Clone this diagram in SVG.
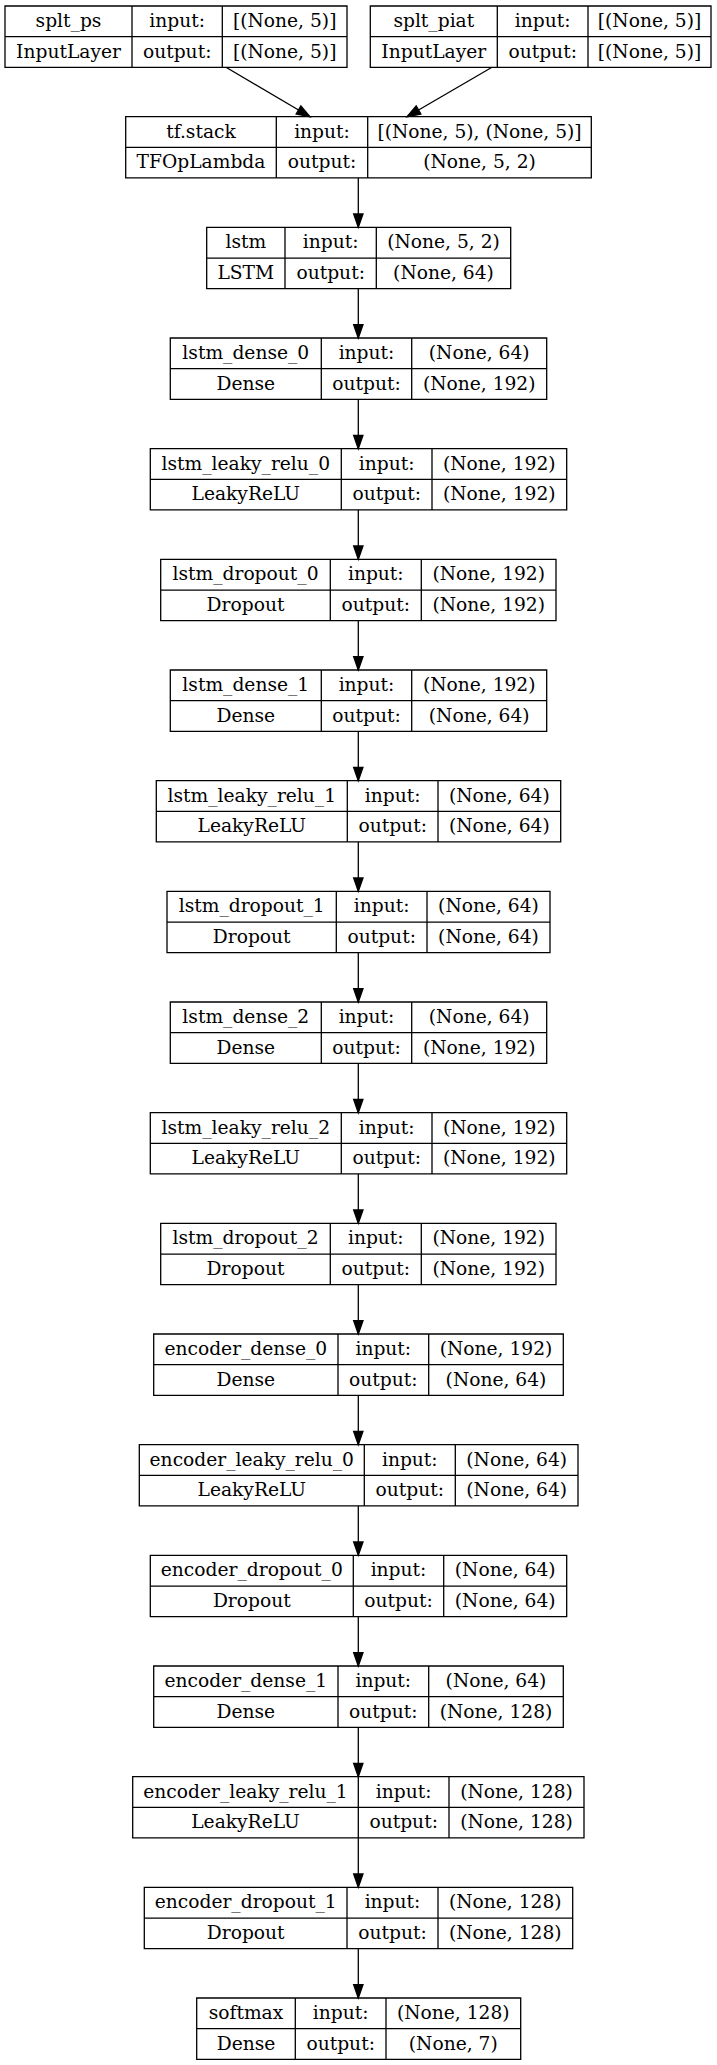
<svg xmlns="http://www.w3.org/2000/svg" width="717" height="2065" viewBox="0 0 717 2065">
<style>
.box{fill:none;stroke:#000;stroke-width:1.3}
.t{font-family:"DejaVu Serif",serif;font-size:18.67px;fill:#000;text-anchor:middle}
.e{stroke:#000;stroke-width:1.3;fill:none}
</style>
<defs>
<marker id="ah" markerUnits="userSpaceOnUse" markerWidth="14" markerHeight="10" refX="13.33" refY="4.67" orient="auto" overflow="visible">
<path d="M0,0 L13.33,4.67 L0,9.33 Z" fill="#000" stroke="#000" stroke-width="1.3"/>
</marker>
</defs>
<rect width="717" height="2065" fill="#fff"/>
<g id="connectors">
<path class="e" d="M226,67.3 L310,116.7" marker-end="url(#ah)"/>
<path class="e" d="M492,67.3 L407,116.7" marker-end="url(#ah)"/>
<path class="e" d="M358.3,178 V227.3" marker-end="url(#ah)"/>
<path class="e" d="M358.3,288.7 V338" marker-end="url(#ah)"/>
<path class="e" d="M358.3,399.3 V448.7" marker-end="url(#ah)"/>
<path class="e" d="M358.3,510 V559.3" marker-end="url(#ah)"/>
<path class="e" d="M358.3,620.7 V670" marker-end="url(#ah)"/>
<path class="e" d="M358.3,731.3 V780.7" marker-end="url(#ah)"/>
<path class="e" d="M358.3,842 V891.3" marker-end="url(#ah)"/>
<path class="e" d="M358.3,952.7 V1002" marker-end="url(#ah)"/>
<path class="e" d="M358.3,1063.3 V1112.7" marker-end="url(#ah)"/>
<path class="e" d="M358.3,1174 V1223.3" marker-end="url(#ah)"/>
<path class="e" d="M358.3,1284.7 V1334" marker-end="url(#ah)"/>
<path class="e" d="M358.3,1395.3 V1444.7" marker-end="url(#ah)"/>
<path class="e" d="M358.3,1506 V1555.3" marker-end="url(#ah)"/>
<path class="e" d="M358.3,1616.7 V1666" marker-end="url(#ah)"/>
<path class="e" d="M358.3,1727.3 V1776.7" marker-end="url(#ah)"/>
<path class="e" d="M358.3,1838 V1887.3" marker-end="url(#ah)"/>
<path class="e" d="M358.3,1948.7 V1998" marker-end="url(#ah)"/>
</g>
<g id="splt_ps" transform="translate(0,6)">
<path class="box" d="M5,0 H347 V61.3 H5 Z M132,0 V61.3 M222.3,0 V61.3 M5,30.7 H347"/>
<text class="t" x="68.5" y="21">splt_ps</text><text class="t" x="68.5" y="51.5">InputLayer</text>
<text class="t" x="177.2" y="21">input:</text><text class="t" x="177.2" y="51.5">output:</text>
<text class="t" x="284.7" y="21">[(None, 5)]</text><text class="t" x="284.7" y="51.5">[(None, 5)]</text>
</g>
<g id="splt_piat" transform="translate(0,6)">
<path class="box" d="M370.3,0 H711 V61.3 H370.3 Z M497.3,0 V61.3 M588,0 V61.3 M370.3,30.7 H711"/>
<text class="t" x="433.8" y="21">splt_piat</text><text class="t" x="433.8" y="51.5">InputLayer</text>
<text class="t" x="542.7" y="21">input:</text><text class="t" x="542.7" y="51.5">output:</text>
<text class="t" x="649.5" y="21">[(None, 5)]</text><text class="t" x="649.5" y="51.5">[(None, 5)]</text>
</g>
<g id="tf_stack" transform="translate(0,116.67)">
<path class="box" d="M125.7,0 H591.3 V61.3 H125.7 Z M276.3,0 V61.3 M367.7,0 V61.3 M125.7,30.7 H591.3"/>
<text class="t" x="201" y="21">tf.stack</text><text class="t" x="201" y="51.5">TFOpLambda</text>
<text class="t" x="322" y="21">input:</text><text class="t" x="322" y="51.5">output:</text>
<text class="t" x="479.5" y="21">[(None, 5), (None, 5)]</text><text class="t" x="479.5" y="51.5">(None, 5, 2)</text>
</g>
<g id="lstm" transform="translate(0,227.33)">
<path class="box" d="M206.7,0 H510.7 V61.3 H206.7 Z M285,0 V61.3 M376.3,0 V61.3 M206.7,30.7 H510.7"/>
<text class="t" x="245.8" y="21">lstm</text><text class="t" x="245.8" y="51.5">LSTM</text>
<text class="t" x="330.7" y="21">input:</text><text class="t" x="330.7" y="51.5">output:</text>
<text class="t" x="443.5" y="21">(None, 5, 2)</text><text class="t" x="443.5" y="51.5">(None, 64)</text>
</g>
<g id="lstm_dense_0" transform="translate(0,338)">
<path class="box" d="M170.3,0 H546.7 V61.3 H170.3 Z M321.3,0 V61.3 M411.7,0 V61.3 M170.3,30.7 H546.7"/>
<text class="t" x="245.8" y="21">lstm_dense_0</text><text class="t" x="245.8" y="51.5">Dense</text>
<text class="t" x="366.5" y="21">input:</text><text class="t" x="366.5" y="51.5">output:</text>
<text class="t" x="479.2" y="21">(None, 64)</text><text class="t" x="479.2" y="51.5">(None, 192)</text>
</g>
<g id="lstm_leaky_relu_0" transform="translate(0,448.67)">
<path class="box" d="M150.3,0 H566.7 V61.3 H150.3 Z M341.3,0 V61.3 M432,0 V61.3 M150.3,30.7 H566.7"/>
<text class="t" x="245.8" y="21">lstm_leaky_relu_0</text><text class="t" x="245.8" y="51.5">LeakyReLU</text>
<text class="t" x="386.7" y="21">input:</text><text class="t" x="386.7" y="51.5">output:</text>
<text class="t" x="499.3" y="21">(None, 192)</text><text class="t" x="499.3" y="51.5">(None, 192)</text>
</g>
<g id="lstm_dropout_0" transform="translate(0,559.33)">
<path class="box" d="M160.7,0 H556 V61.3 H160.7 Z M330.3,0 V61.3 M421.3,0 V61.3 M160.7,30.7 H556"/>
<text class="t" x="245.5" y="21">lstm_dropout_0</text><text class="t" x="245.5" y="51.5">Dropout</text>
<text class="t" x="375.8" y="21">input:</text><text class="t" x="375.8" y="51.5">output:</text>
<text class="t" x="488.7" y="21">(None, 192)</text><text class="t" x="488.7" y="51.5">(None, 192)</text>
</g>
<g id="lstm_dense_1" transform="translate(0,670)">
<path class="box" d="M170.3,0 H546.7 V61.3 H170.3 Z M321.3,0 V61.3 M411.7,0 V61.3 M170.3,30.7 H546.7"/>
<text class="t" x="245.8" y="21">lstm_dense_1</text><text class="t" x="245.8" y="51.5">Dense</text>
<text class="t" x="366.5" y="21">input:</text><text class="t" x="366.5" y="51.5">output:</text>
<text class="t" x="479.2" y="21">(None, 192)</text><text class="t" x="479.2" y="51.5">(None, 64)</text>
</g>
<g id="lstm_leaky_relu_1" transform="translate(0,780.67)">
<path class="box" d="M156.3,0 H560.7 V61.3 H156.3 Z M347.3,0 V61.3 M438,0 V61.3 M156.3,30.7 H560.7"/>
<text class="t" x="251.8" y="21">lstm_leaky_relu_1</text><text class="t" x="251.8" y="51.5">LeakyReLU</text>
<text class="t" x="392.7" y="21">input:</text><text class="t" x="392.7" y="51.5">output:</text>
<text class="t" x="499.3" y="21">(None, 64)</text><text class="t" x="499.3" y="51.5">(None, 64)</text>
</g>
<g id="lstm_dropout_1" transform="translate(0,891.33)">
<path class="box" d="M167,0 H550 V61.3 H167 Z M336.3,0 V61.3 M427,0 V61.3 M167,30.7 H550"/>
<text class="t" x="251.7" y="21">lstm_dropout_1</text><text class="t" x="251.7" y="51.5">Dropout</text>
<text class="t" x="381.7" y="21">input:</text><text class="t" x="381.7" y="51.5">output:</text>
<text class="t" x="488.5" y="21">(None, 64)</text><text class="t" x="488.5" y="51.5">(None, 64)</text>
</g>
<g id="lstm_dense_2" transform="translate(0,1002)">
<path class="box" d="M170.3,0 H546.7 V61.3 H170.3 Z M321.3,0 V61.3 M411.7,0 V61.3 M170.3,30.7 H546.7"/>
<text class="t" x="245.8" y="21">lstm_dense_2</text><text class="t" x="245.8" y="51.5">Dense</text>
<text class="t" x="366.5" y="21">input:</text><text class="t" x="366.5" y="51.5">output:</text>
<text class="t" x="479.2" y="21">(None, 64)</text><text class="t" x="479.2" y="51.5">(None, 192)</text>
</g>
<g id="lstm_leaky_relu_2" transform="translate(0,1112.67)">
<path class="box" d="M150.3,0 H566.7 V61.3 H150.3 Z M341.3,0 V61.3 M432,0 V61.3 M150.3,30.7 H566.7"/>
<text class="t" x="245.8" y="21">lstm_leaky_relu_2</text><text class="t" x="245.8" y="51.5">LeakyReLU</text>
<text class="t" x="386.7" y="21">input:</text><text class="t" x="386.7" y="51.5">output:</text>
<text class="t" x="499.3" y="21">(None, 192)</text><text class="t" x="499.3" y="51.5">(None, 192)</text>
</g>
<g id="lstm_dropout_2" transform="translate(0,1223.33)">
<path class="box" d="M160.7,0 H556 V61.3 H160.7 Z M330.3,0 V61.3 M421.3,0 V61.3 M160.7,30.7 H556"/>
<text class="t" x="245.5" y="21">lstm_dropout_2</text><text class="t" x="245.5" y="51.5">Dropout</text>
<text class="t" x="375.8" y="21">input:</text><text class="t" x="375.8" y="51.5">output:</text>
<text class="t" x="488.7" y="21">(None, 192)</text><text class="t" x="488.7" y="51.5">(None, 192)</text>
</g>
<g id="encoder_dense_0" transform="translate(0,1334)">
<path class="box" d="M153.7,0 H563.3 V61.3 H153.7 Z M338,0 V61.3 M428.7,0 V61.3 M153.7,30.7 H563.3"/>
<text class="t" x="245.8" y="21">encoder_dense_0</text><text class="t" x="245.8" y="51.5">Dense</text>
<text class="t" x="383.3" y="21">input:</text><text class="t" x="383.3" y="51.5">output:</text>
<text class="t" x="496" y="21">(None, 192)</text><text class="t" x="496" y="51.5">(None, 64)</text>
</g>
<g id="encoder_leaky_relu_0" transform="translate(0,1444.67)">
<path class="box" d="M139.3,0 H578 V61.3 H139.3 Z M364.3,0 V61.3 M455.3,0 V61.3 M139.3,30.7 H578"/>
<text class="t" x="251.8" y="21">encoder_leaky_relu_0</text><text class="t" x="251.8" y="51.5">LeakyReLU</text>
<text class="t" x="409.8" y="21">input:</text><text class="t" x="409.8" y="51.5">output:</text>
<text class="t" x="516.7" y="21">(None, 64)</text><text class="t" x="516.7" y="51.5">(None, 64)</text>
</g>
<g id="encoder_dropout_0" transform="translate(0,1555.33)">
<path class="box" d="M150.3,0 H566.7 V61.3 H150.3 Z M353.3,0 V61.3 M443.7,0 V61.3 M150.3,30.7 H566.7"/>
<text class="t" x="251.8" y="21">encoder_dropout_0</text><text class="t" x="251.8" y="51.5">Dropout</text>
<text class="t" x="398.5" y="21">input:</text><text class="t" x="398.5" y="51.5">output:</text>
<text class="t" x="505.2" y="21">(None, 64)</text><text class="t" x="505.2" y="51.5">(None, 64)</text>
</g>
<g id="encoder_dense_1" transform="translate(0,1666)">
<path class="box" d="M153.7,0 H563.3 V61.3 H153.7 Z M338,0 V61.3 M428.7,0 V61.3 M153.7,30.7 H563.3"/>
<text class="t" x="245.8" y="21">encoder_dense_1</text><text class="t" x="245.8" y="51.5">Dense</text>
<text class="t" x="383.3" y="21">input:</text><text class="t" x="383.3" y="51.5">output:</text>
<text class="t" x="496" y="21">(None, 64)</text><text class="t" x="496" y="51.5">(None, 128)</text>
</g>
<g id="encoder_leaky_relu_1" transform="translate(0,1776.67)">
<path class="box" d="M132.7,0 H584 V61.3 H132.7 Z M358.3,0 V61.3 M449,0 V61.3 M132.7,30.7 H584"/>
<text class="t" x="245.5" y="21">encoder_leaky_relu_1</text><text class="t" x="245.5" y="51.5">LeakyReLU</text>
<text class="t" x="403.7" y="21">input:</text><text class="t" x="403.7" y="51.5">output:</text>
<text class="t" x="516.5" y="21">(None, 128)</text><text class="t" x="516.5" y="51.5">(None, 128)</text>
</g>
<g id="encoder_dropout_1" transform="translate(0,1887.33)">
<path class="box" d="M144.3,0 H572.7 V61.3 H144.3 Z M347,0 V61.3 M438,0 V61.3 M144.3,30.7 H572.7"/>
<text class="t" x="245.7" y="21">encoder_dropout_1</text><text class="t" x="245.7" y="51.5">Dropout</text>
<text class="t" x="392.5" y="21">input:</text><text class="t" x="392.5" y="51.5">output:</text>
<text class="t" x="505.3" y="21">(None, 128)</text><text class="t" x="505.3" y="51.5">(None, 128)</text>
</g>
<g id="softmax" transform="translate(0,1998)">
<path class="box" d="M196.7,0 H520.7 V61.3 H196.7 Z M295.3,0 V61.3 M386,0 V61.3 M196.7,30.7 H520.7"/>
<text class="t" x="246" y="21">softmax</text><text class="t" x="246" y="51.5">Dense</text>
<text class="t" x="340.7" y="21">input:</text><text class="t" x="340.7" y="51.5">output:</text>
<text class="t" x="453.3" y="21">(None, 128)</text><text class="t" x="453.3" y="51.5">(None, 7)</text>
</g>
</svg>
